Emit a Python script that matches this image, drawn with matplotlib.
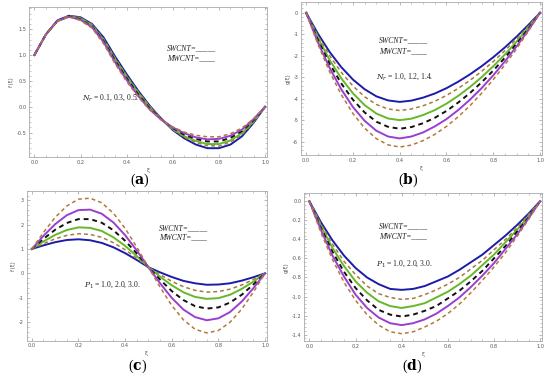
import matplotlib
matplotlib.use("Agg")
import matplotlib.pyplot as plt
from matplotlib.ticker import AutoMinorLocator, FormatStrFormatter

xi = [0.0, 0.05, 0.1, 0.15, 0.2, 0.25, 0.3, 0.35, 0.4, 0.45, 0.5,
      0.55, 0.6, 0.65, 0.7, 0.75, 0.8, 0.85, 0.9, 0.95, 1.0]

# panel (a)  f'(xi) for N_r
a_blue   = [1.0, 1.40, 1.67, 1.76, 1.73, 1.60, 1.34, 0.97, 0.63, 0.31, 0.02, -0.23, -0.45, -0.61, -0.73, -0.80, -0.80, -0.73, -0.57, -0.31, 0.0]
a_brown1 = [1.0, 1.40, 1.66, 1.76, 1.72, 1.59, 1.31, 0.94, 0.60, 0.29, 0.01, -0.23, -0.44, -0.59, -0.69, -0.75, -0.76, -0.68, -0.54, -0.30, 0.0]
a_green  = [1.0, 1.40, 1.66, 1.75, 1.71, 1.57, 1.29, 0.92, 0.58, 0.27, -0.01, -0.24, -0.43, -0.57, -0.66, -0.72, -0.72, -0.65, -0.51, -0.28, 0.0]
a_black  = [1.0, 1.40, 1.66, 1.75, 1.69, 1.55, 1.27, 0.89, 0.55, 0.24, -0.03, -0.24, -0.41, -0.54, -0.62, -0.67, -0.67, -0.60, -0.47, -0.26, 0.0]
a_purple = [1.0, 1.40, 1.66, 1.74, 1.68, 1.54, 1.25, 0.86, 0.52, 0.21, -0.05, -0.25, -0.40, -0.51, -0.59, -0.63, -0.62, -0.56, -0.44, -0.24, 0.0]
a_brown2 = [1.0, 1.40, 1.65, 1.74, 1.67, 1.52, 1.22, 0.83, 0.49, 0.19, -0.06, -0.25, -0.39, -0.49, -0.55, -0.58, -0.58, -0.52, -0.41, -0.23, 0.0]

# panel (b)  g(xi) for N_r
b_blue   = [0, -0.97, -1.82, -2.53, -3.11, -3.56, -3.89, -4.08, -4.15, -4.09, -3.95, -3.76, -3.51, -3.21, -2.87, -2.49, -2.07, -1.61, -1.11, -0.57, 0]
b_brown1 = [0, -1.06, -1.99, -2.77, -3.41, -3.91, -4.27, -4.48, -4.55, -4.48, -4.33, -4.12, -3.85, -3.52, -3.15, -2.73, -2.27, -1.76, -1.21, -0.63, 0]
b_green  = [0, -1.17, -2.19, -3.05, -3.75, -4.30, -4.69, -4.92, -5.00, -4.93, -4.76, -4.53, -4.23, -3.87, -3.46, -3.00, -2.49, -1.94, -1.34, -0.69, 0]
b_black  = [0, -1.26, -2.37, -3.29, -4.05, -4.64, -5.07, -5.31, -5.40, -5.32, -5.14, -4.89, -4.57, -4.18, -3.74, -3.24, -2.69, -2.09, -1.44, -0.75, 0]
b_purple = [0, -1.37, -2.56, -3.56, -4.39, -5.03, -5.49, -5.76, -5.85, -5.76, -5.57, -5.29, -4.95, -4.53, -4.05, -3.51, -2.91, -2.26, -1.56, -0.81, 0]
b_brown2 = [0, -1.46, -2.74, -3.81, -4.69, -5.37, -5.86, -6.15, -6.25, -6.16, -5.95, -5.66, -5.29, -4.84, -4.33, -3.75, -3.11, -2.42, -1.67, -0.86, 0]

# panel (c)  f'(xi) for P_1
c_blue   = [1.0, 1.15, 1.28, 1.37, 1.40, 1.36, 1.25, 1.07, 0.83, 0.55, 0.25, 0.04, -0.15, -0.31, -0.41, -0.47, -0.46, -0.41, -0.30, -0.16, 0.0]
c_brown1 = [1.0, 1.22, 1.42, 1.56, 1.63, 1.60, 1.48, 1.26, 0.97, 0.62, 0.25, -0.05, -0.33, -0.55, -0.70, -0.77, -0.75, -0.65, -0.48, -0.25, 0.0]
c_green  = [1.0, 1.31, 1.58, 1.78, 1.89, 1.87, 1.74, 1.48, 1.13, 0.71, 0.25, -0.14, -0.49, -0.78, -0.97, -1.05, -1.02, -0.88, -0.64, -0.34, 0.0]
c_black  = [1.0, 1.42, 1.79, 2.07, 2.23, 2.23, 2.08, 1.77, 1.34, 0.82, 0.25, -0.26, -0.73, -1.10, -1.35, -1.45, -1.40, -1.20, -0.88, -0.46, 0.0]
c_purple = [1.0, 1.54, 2.02, 2.39, 2.60, 2.62, 2.45, 2.09, 1.57, 0.94, 0.25, -0.41, -1.01, -1.49, -1.80, -1.93, -1.85, -1.59, -1.16, -0.61, 0.0]
c_brown2 = [1.0, 1.68, 2.30, 2.77, 3.05, 3.09, 2.90, 2.47, 1.85, 1.08, 0.25, -0.57, -1.32, -1.91, -2.30, -2.45, -2.35, -2.01, -1.47, -0.77, 0.0]

# panel (d)  g(xi) for P_1
d_blue   = [0, -0.22, -0.41, -0.57, -0.70, -0.80, -0.87, -0.92, -0.93, -0.92, -0.89, -0.84, -0.79, -0.72, -0.64, -0.56, -0.46, -0.36, -0.25, -0.13, 0]
d_brown1 = [0, -0.24, -0.45, -0.63, -0.77, -0.89, -0.97, -1.01, -1.03, -1.02, -0.98, -0.93, -0.87, -0.80, -0.71, -0.62, -0.51, -0.40, -0.28, -0.14, 0]
d_green  = [0, -0.26, -0.49, -0.68, -0.84, -0.96, -1.05, -1.10, -1.12, -1.10, -1.07, -1.01, -0.95, -0.87, -0.78, -0.67, -0.56, -0.43, -0.30, -0.16, 0]
d_black  = [0, -0.28, -0.53, -0.74, -0.91, -1.04, -1.14, -1.19, -1.21, -1.19, -1.15, -1.10, -1.02, -0.94, -0.84, -0.73, -0.60, -0.47, -0.32, -0.17, 0]
d_purple = [0, -0.30, -0.57, -0.79, -0.98, -1.12, -1.22, -1.28, -1.30, -1.28, -1.24, -1.18, -1.10, -1.01, -0.90, -0.78, -0.65, -0.50, -0.35, -0.18, 0]
d_brown2 = [0, -0.33, -0.61, -0.85, -1.04, -1.19, -1.30, -1.37, -1.39, -1.37, -1.32, -1.26, -1.18, -1.08, -0.96, -0.83, -0.69, -0.54, -0.37, -0.19, 0]

panels = [
    dict(curves=[a_blue, a_brown1, a_green, a_black, a_purple, a_brown2],
         rect=[0.0533, 0.5836, 0.4316, 0.398], ylim=(-0.97, 1.93),
         yticks=[-0.5, 0.0, 0.5, 1.0, 1.5], yfmt='%.1f', ylabel="f'(ξ)",
         sw=(0.575, 1.10), mw=(0.575, 0.90), ptxt=(0.205, 0.13),
         param=r'$N_r$ = 0.1, 0.3, 0.5.', tag='a', tagpos=(140, 180)),
    dict(curves=[b_blue, b_brown1, b_green, b_black, b_purple, b_brown2],
         rect=[0.5473, 0.5889, 0.4376, 0.4058], ylim=(-6.62, 0.5),
         yticks=[-6, -5, -4, -3, -2, -1, 0], yfmt='%d', ylabel='g(ξ)',
         sw=(0.31, -1.39), mw=(0.31, -1.87), ptxt=(0.30, -3.08),
         param=r'$N_r$ = 1.0, 1.2, 1.4.', tag='b', tagpos=(408, 180)),
    dict(curves=[c_blue, c_brown1, c_green, c_black, c_purple, c_brown2],
         rect=[0.0485, 0.0963, 0.4364, 0.398], ylim=(-2.77, 3.40),
         yticks=[-2, -1, 0, 1, 2, 3], yfmt='%d', ylabel="f'(ξ)",
         sw=(0.544, 1.79), mw=(0.544, 1.38), ptxt=(0.224, -0.56),
         param=r'$P_1$ = 1.0, 2.0, 3.0.', tag='c', tagpos=(138, 366)),
    dict(curves=[d_blue, d_brown1, d_green, d_black, d_purple, d_brown2],
         rect=[0.5533, 0.0947, 0.4316, 0.3934], ylim=(-1.47, 0.087),
         yticks=[-1.4, -1.2, -1.0, -0.8, -0.6, -0.4, -0.2, 0.0], yfmt='%.1f', ylabel='g(ξ)',
         sw=(0.30, -0.28), mw=(0.30, -0.385), ptxt=(0.29, -0.68),
         param=r'$P_1$ = 1.0, 2.0, 3.0.', tag='d', tagpos=(412, 366)),
]

colors = ['#1c1ca8', '#a87840', '#66b82a', '#111111', '#9a3ed0', '#b07a3c']
styles = ['-', (0, (2.5, 2)), '-', (0, (2.5, 2)), '-', (0, (2.5, 2))]
widths = [1.4, 1.1, 1.4, 1.4, 1.4, 1.1]

plt.rcParams['mathtext.fontset'] = 'dejavuserif'
fig = plt.figure(figsize=(5.5, 3.77), dpi=100)

for p in panels:
    ax = fig.add_axes(p['rect'])
    for ys, c, ls, lw in zip(p['curves'], colors, styles, widths):
        ax.plot(xi, ys, color=c, linestyle=ls, linewidth=lw)
    ax.set_xlim(-0.022, 1.007)
    ax.set_ylim(*p['ylim'])
    ax.set_xticks([0.0, 0.2, 0.4, 0.6, 0.8, 1.0])
    ax.set_yticks(p['yticks'])
    ax.xaxis.set_major_formatter(FormatStrFormatter('%.1f'))
    ax.yaxis.set_major_formatter(FormatStrFormatter(p['yfmt']))
    ax.xaxis.set_minor_locator(AutoMinorLocator(4))
    ax.yaxis.set_minor_locator(AutoMinorLocator(5))
    ax.tick_params(which='both', direction='in', top=True, right=True,
                   colors='#999999', labelcolor='#555555', labelsize=3.6, pad=2)
    ax.tick_params(which='major', length=2.5, width=0.5)
    ax.tick_params(which='minor', length=1.3, width=0.4)
    for s in ax.spines.values():
        s.set_color('#aaaaaa')
        s.set_linewidth(0.6)
    ax.set_xlabel('ξ', fontsize=4, color='#555555', labelpad=2)
    ax.set_ylabel(p['ylabel'], fontsize=4, color='#555555', labelpad=2)
    tkw = dict(fontsize=5.5, family='Liberation Serif', style='italic', color='#222222')
    ax.text(p['sw'][0], p['sw'][1], 'SWCNT=_____', **tkw)
    ax.text(p['mw'][0], p['mw'][1], 'MWCNT=____', **tkw)
    ax.text(p['ptxt'][0], p['ptxt'][1], p['param'], fontsize=5.5,
            family='Liberation Serif', color='#222222')
    fig.text(p['tagpos'][0] / 550, 1 - p['tagpos'][1] / 377,
             '(' + r'$\mathbf{' + p['tag'] + '}$' + ')', fontsize=10,
             family='Liberation Serif', ha='center', va='center')

fig.savefig('out.png', dpi=100)
